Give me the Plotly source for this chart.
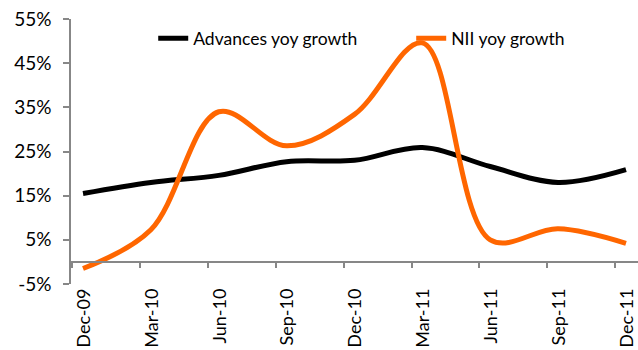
import plotly.graph_objects as go

categories = ["Dec-09", "Mar-10", "Jun-10", "Sep-10", "Dec-10", "Mar-11", "Jun-11", "Sep-11", "Dec-11"]
advances_yoy = [15.5, 18.0, 19.6, 22.7, 23.0, 25.9, 21.6, 18.0, 20.9]
nii_yoy = [-1.5, 7.3, 34.0, 26.3, 33.4, 49.6, 5.0, 7.5, 4.2]
y_ticks = [-5, 5, 15, 25, 35, 45, 55]
y_tick_labels = [f"{v}%" for v in y_ticks]

x_idx = list(range(len(categories)))
FONT = "Lato, Calibri, Noto Sans, sans-serif"
AXIS_COLOR = "#878787"

fig = go.Figure()
fig.add_trace(go.Scatter(x=x_idx, y=advances_yoy, name="Advances yoy growth", mode="lines",
                         legend="legend",
                         line=dict(color="#000000", width=5, shape="spline", smoothing=1)))
fig.add_trace(go.Scatter(x=x_idx, y=nii_yoy, name="NII yoy growth", mode="lines",
                         legend="legend2",
                         line=dict(color="#FF6600", width=5, shape="spline", smoothing=1)))

xr = [-0.177, 8.177]
leg_common = dict(orientation="h", y=0.995, xanchor="left", yanchor="top",
                  font=dict(size=17.5), bgcolor="rgba(0,0,0,0)")
fig.update_layout(
    width=638, height=350,
    margin=dict(l=71, r=0, t=19, b=66, autoexpand=False),
    paper_bgcolor="white", plot_bgcolor="white",
    font=dict(family=FONT, size=16, color="#000000"),
    showlegend=True,
    legend=dict(x=0.145, **leg_common),
    legend2=dict(x=0.60, **leg_common),
    xaxis=dict(range=xr, tickmode="array", tickvals=x_idx, ticktext=categories,
               tickangle=-90, ticks="", showline=False, showgrid=False, zeroline=False,
               tickfont=dict(size=18), ticklabelshift=1, ticklabeloverflow="allow",
               automargin=False),
    xaxis2=dict(range=xr, overlaying="x", anchor="free", position=1/12, side="bottom",
                showline=True, linecolor=AXIS_COLOR, linewidth=1.5,
                tickmode="array", tickvals=[i - 0.16 for i in x_idx], ticks="outside",
                ticklen=5, tickcolor=AXIS_COLOR, tickwidth=1.5, showticklabels=False,
                showgrid=False, zeroline=False, automargin=False),
    yaxis=dict(range=[-5, 55], tickmode="array", tickvals=y_ticks, ticktext=y_tick_labels,
               showline=True, linecolor=AXIS_COLOR, linewidth=1.5, ticks="outside",
               ticklen=6, tickcolor=AXIS_COLOR, tickwidth=1.5, showgrid=False,
               zeroline=False, tickfont=dict(size=19), ticklabelstandoff=8,
               automargin=False),
)
fig.add_trace(go.Scatter(x=[None], y=[None], xaxis="x2", showlegend=False, hoverinfo="skip"))

fig.write_html("out.html")
